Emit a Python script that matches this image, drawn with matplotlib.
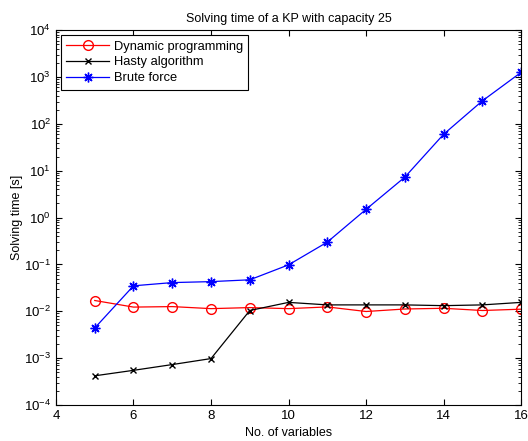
import matplotlib.pyplot as plt
import numpy as np

plt.rcParams['font.family'] = ['Liberation Sans', 'DejaVu Sans']
plt.rcParams['font.size'] = 9

n_vars = [5, 6, 7, 8, 9, 10, 11, 12, 13, 14, 15, 16]
dynamic = [0.017, 0.0123, 0.0126, 0.0114, 0.012, 0.0114, 0.0124, 0.0099, 0.0112, 0.0116, 0.0104, 0.0111]
hasty = [0.00042, 0.00055, 0.00073, 0.00098, 0.0104, 0.0155, 0.0137, 0.0137, 0.0137, 0.0132, 0.0137, 0.0155]
brute = [0.0044, 0.035, 0.041, 0.043, 0.047, 0.098, 0.30, 1.5, 7.3, 60, 310, 1260]

fig = plt.figure(figsize=(5.28, 4.41), dpi=100)
ax = fig.add_axes([0.106, 0.0816, 0.881, 0.850])

ax.plot(n_vars, dynamic, color='red', marker='o', markerfacecolor='none',
        markersize=7, linewidth=0.9, label='Dynamic programming')
ax.plot(n_vars, hasty, color='black', marker='x', markersize=5,
        linewidth=0.9, label='Hasty algorithm')
ax.plot(n_vars, brute, color='blue', marker=(8, 2, 0), markersize=7,
        markeredgewidth=1.0, linewidth=0.9, label='Brute force')

ax.set_yscale('log')
ax.set_xlim(4, 16)
ax.set_ylim(1e-4, 1e4)
ax.set_xticks([4, 6, 8, 10, 12, 14, 16])
ax.set_yticks([10.0 ** k for k in range(-4, 5)])
ax.tick_params(which='both', direction='in', top=True, right=True, labelsize=9.5)
ax.tick_params(which='major', length=4)
ax.tick_params(which='minor', length=2)

ax.set_title('Solving time of a KP with capacity 25', fontsize=9)
ax.set_xlabel('No. of variables', labelpad=4)
ax.set_ylabel('Solving time [s]', labelpad=1)

leg = ax.legend(loc='upper left', fancybox=False, edgecolor='black',
                handlelength=3.3, handletextpad=0.4, borderaxespad=0.4,
                framealpha=1, borderpad=0.4, labelspacing=0.3, fontsize=9.3)
leg.get_frame().set_linewidth(0.8)

fig.savefig('out.png', dpi=100)
